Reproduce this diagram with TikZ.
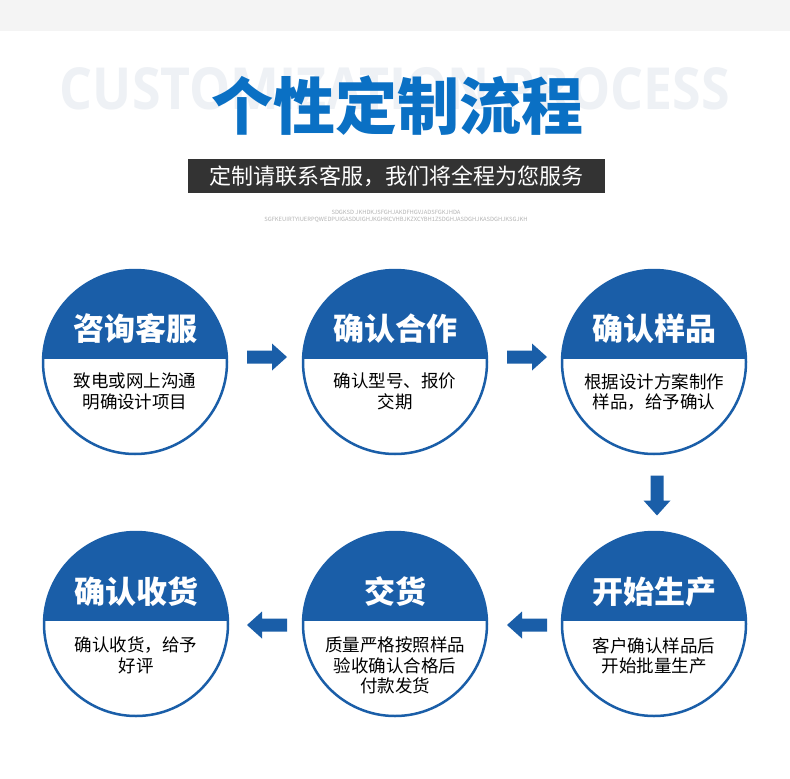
\documentclass[tikz,border=0pt]{standalone}
\usepackage{fontspec}
\usepackage{graphicx}
\setmainfont{Noto Sans CJK SC}
\newfontfamily\ghostfont{Open Sans}
\definecolor{stepblue}{HTML}{1A5EA8}
\definecolor{titleblue}{HTML}{0A70C4}
\definecolor{ghost}{HTML}{EEF1F5}
\definecolor{topband}{HTML}{F4F4F4}
\definecolor{barblack}{HTML}{333333}
\definecolor{tinygray}{HTML}{B4B4B4}
\tikzset{
  stepcircle/.style={circle, draw=stepblue, line width=2.5pt, minimum size=184pt, inner sep=0pt, fill=white,
    path picture={\fill[stepblue] ([yshift=100pt]path picture bounding box.north west) rectangle ([yshift=3pt]path picture bounding box.east);}},
  stephead/.style={inner sep=0pt, text=white, font=\fontsize{31}{31}\selectfont\bfseries},
  stepdesc/.style={inner sep=0pt, anchor=north, align=center, text=black, font=\fontsize{17.5}{20.5}\selectfont},
  blockarrow/.style={fill=stepblue, draw=none}
}
\newcommand{\blockarrowshape}{(-20,-6.5) -- (5,-6.5) -- (5,-13.5) -- (20,0) -- (5,13.5) -- (5,6.5) -- (-20,6.5) -- cycle}
\begin{document}
\begin{tikzpicture}[x=1pt,y=-1pt]
\useasboundingbox (0,0) rectangle (790,779);
\fill[white] (0,0) rectangle (790,779);
\fill[topband] (0,0) rectangle (790,31);
% ghost heading
\node[inner sep=0pt, text=ghost] (ghost) at (395,89) {\resizebox{670pt}{42pt}{\ghostfont\bfseries CUSTOMIZATION PROCESS}};
% title
\node[inner sep=0pt, text=titleblue, font=\fontsize{62}{62}\selectfont\bfseries] (title) at (397,106) {个性定制流程};
% bar
\node[fill=barblack, minimum width=417pt, minimum height=34pt, inner sep=0pt, text=white, font=\fontsize{22}{22}\selectfont] (bar) at (396.5,176) {定制请联系客服，我们将全程为您服务};
% tiny text
\node[inner sep=0pt, text=tinygray, font=\fontsize{5.8}{5.8}\selectfont] (tiny1) at (396,212) {SDGKSD JKHDKJSFGHJAKDFHGVJADSFGKJHDA};
\node[inner sep=0pt, text=tinygray, font=\fontsize{5.8}{5.8}\selectfont] (tiny2) at (396,220) {SGFKEUIRTYIUERPQWEDPUIGASDUIGHJKGHKCVHBJKZXCYBH1ZSDGHJASDGHJKASDGHJKSGJKH};
% circles
\node[stepcircle] (c1) at (135,362) {};
\node[stepcircle] (c2) at (395,362) {};
\node[stepcircle] (c3) at (654,362) {};
\node[stepcircle] (c4) at (136,624) {};
\node[stepcircle] (c5) at (395,624) {};
\node[stepcircle] (c6) at (654,624) {};
% headings
\node[stephead] (h1) at ([yshift=33pt]c1.center) {咨询客服};
\node[stephead] (h2) at ([yshift=33pt]c2.center) {确认合作};
\node[stephead] (h3) at ([yshift=33pt]c3.center) {确认样品};
\node[stephead] (h4) at ([yshift=32pt]c4.center) {确认收货};
\node[stephead] (h5) at ([yshift=32pt]c5.center) {交货};
\node[stephead] (h6) at ([yshift=32pt]c6.center) {开始生产};
% descriptions
\node[stepdesc] (d1) at ([yshift=-11pt]c1.center) {致电或网上沟通\\明确设计项目};
\node[stepdesc] (d2) at ([yshift=-11pt]c2.center) {确认型号、报价\\交期};
\node[stepdesc] (d3) at ([yshift=-11pt]c3.center) {根据设计方案制作\\样品，给予确认};
\node[stepdesc] (d4) at ([yshift=-13pt]c4.center) {确认收货，给予\\好评};
\node[stepdesc] (d5) at ([yshift=-13pt]c5.center) {质量严格按照样品\\验收确认合格后\\付款发货};
\node[stepdesc] (d6) at ([yshift=-13pt]c6.center) {客户确认样品后\\开始批量生产};
% arrows
\coordinate (a12) at (267,357);
\coordinate (a23) at (527,357);
\coordinate (a36) at (657,495.5);
\coordinate (a65) at (527,625);
\coordinate (a54) at (267,625);
\fill[blockarrow, shift={(a12)}] \blockarrowshape;
\fill[blockarrow, shift={(a23)}] \blockarrowshape;
\fill[blockarrow, shift={(a36)}, rotate=-90] \blockarrowshape;
\fill[blockarrow, shift={(a65)}, rotate=180] \blockarrowshape;
\fill[blockarrow, shift={(a54)}, rotate=180] \blockarrowshape;
\end{tikzpicture}
\end{document}
